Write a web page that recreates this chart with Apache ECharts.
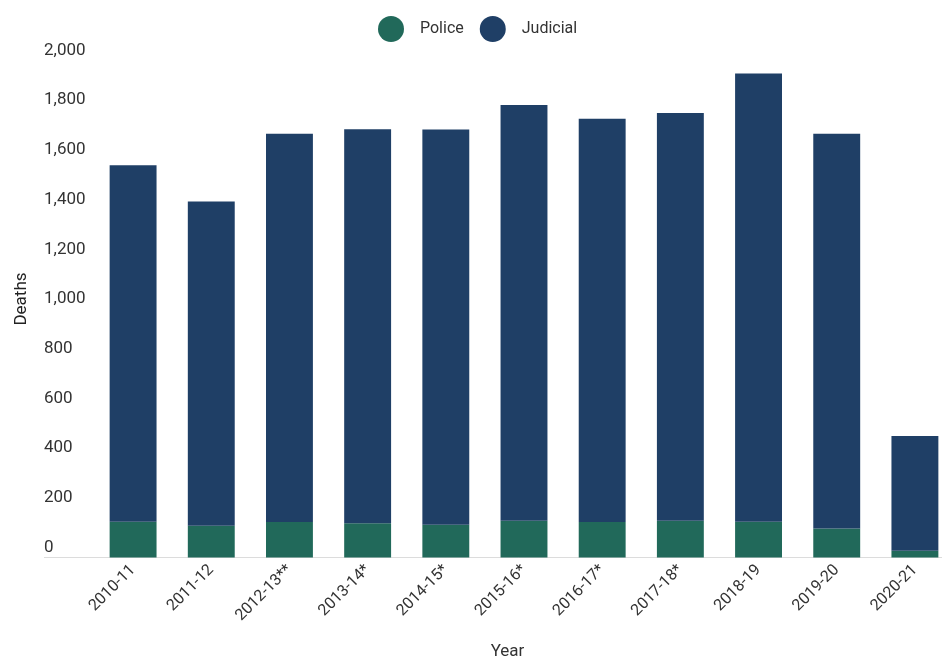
<!DOCTYPE html>
<html>
<head>
<meta charset="utf-8">
<style>
  html, body { margin: 0; padding: 0; background: #ffffff; }
  #chart { width: 942px; height: 659px; }
</style>
<script src="https://cdn.jsdelivr.net/npm/echarts@6/dist/echarts.min.js"></script>
</head>
<body>
<div id="chart"></div>
<script>
const categories = ['2010-11', '2011-12', '2012-13**', '2013-14*', '2014-15*', '2015-16*', '2016-17*', '2017-18*', '2018-19', '2019-20', '2020-21'];
const policeDeaths = [144, 128, 143, 138, 132, 148, 143, 148, 144, 117, 27];
const judicialDeaths = [1434, 1305, 1562, 1585, 1590, 1673, 1623, 1641, 1804, 1588, 462];
const yTicks = { min: 0, max: 2000, interval: 200 };

const chart = echarts.init(document.getElementById('chart'), null, { renderer: 'canvas' });
const fontFamily = 'Roboto, "Noto Sans", sans-serif';

chart.setOption({
  animation: false,
  backgroundColor: '#ffffff',
  textStyle: { fontFamily: fontFamily },
  legend: {
    top: 11,
    left: 373,
    icon: 'circle',
    itemWidth: 26,
    itemHeight: 26,
    itemGap: 16,
    textStyle: { fontSize: 16, color: '#333', fontFamily: fontFamily, padding: [0, 0, 0, 11] },
    data: ['Police', 'Judicial']
  },
  grid: { left: 94, top: 60.5, width: 860, bottom: 101.5, containLabel: false, outerBoundsMode: 'none' },
  xAxis: {
    type: 'category',
    data: categories,
    name: 'Year',
    nameLocation: 'middle',
    nameGap: 86,
    nameTextStyle: { fontSize: 17, color: '#333', fontFamily: fontFamily, padding: [0, 33, 0, 0] },
    axisLine: { show: true, lineStyle: { color: '#dcdcdc', width: 1 } },
    axisTick: { show: false },
    axisLabel: { rotate: 45, fontSize: 16, color: '#333', margin: 10, fontFamily: fontFamily, interval: 0 }
  },
  yAxis: {
    type: 'value',
    min: yTicks.min,
    max: yTicks.max,
    interval: yTicks.interval,
    name: 'Deaths',
    nameLocation: 'middle',
    nameGap: 64,
    nameTextStyle: { fontSize: 17, color: '#222', fontFamily: fontFamily, padding: [0, 0, 0, 20] },
    axisLine: { show: false },
    axisTick: { show: false },
    splitLine: { show: false },
    axisLabel: {
      align: 'left',
      verticalAlign: 'bottom',
      lineHeight: 20,
      margin: 50,
      fontSize: 17,
      color: '#333',
      fontFamily: fontFamily,
      formatter: function (v) { return v.toLocaleString('en-US'); }
    }
  },
  series: [
    {
      name: 'Police',
      type: 'bar',
      stack: 'total',
      barWidth: '60%',
      itemStyle: { color: '#21695a' },
      data: policeDeaths
    },
    {
      name: 'Judicial',
      type: 'bar',
      stack: 'total',
      barWidth: '60%',
      itemStyle: { color: '#1f3f66' },
      data: judicialDeaths
    }
  ]
});

const y0 = chart.convertToPixel({ yAxisIndex: 0 }, 0);
const gridLeft = chart.convertToPixel({ xAxisIndex: 0 }, 0) - 39.1;
chart.setOption({
  graphic: [{
    type: 'line',
    silent: true,
    shape: { x1: 44, y1: y0, x2: gridLeft, y2: y0 },
    style: { stroke: '#dcdcdc', lineWidth: 1 }
  }]
});
</script>
</body>
</html>
